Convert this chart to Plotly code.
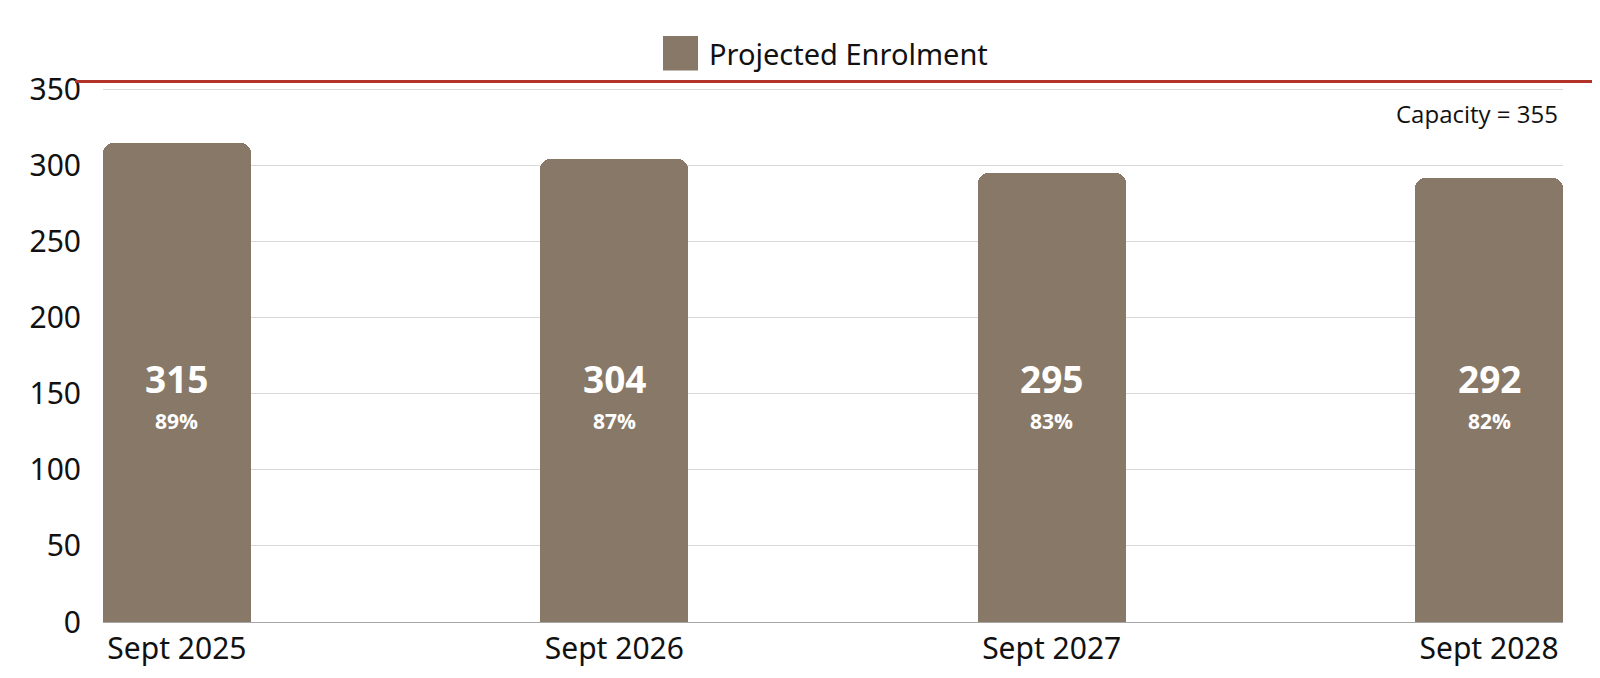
import plotly.graph_objects as go

categories = ["Sept 2025", "Sept 2026", "Sept 2027", "Sept 2028"]
enrolment = [315, 304, 295, 292]
pct_labels = ["89%", "87%", "83%", "82%"]
capacity = 355
series_name = "Projected Enrolment"
y_ticks = [0, 50, 100, 150, 200, 250, 300, 350]

BAR = "#887867"
RED = "#b3322a"
OFF = 8  # page body margin offset
W, H = 1600, 678
ML, MR, MT, MB = 103 - OFF, 37 + OFF, 74 - OFF, 56 + OFF
PW = W - ML - MR
PH = H - MT - MB

def px_x(p):
    return (p - OFF - ML) / PW

def px_y(p):
    return (H - MB - (p - OFF)) / PH

bw = 0.338
fig = go.Figure()
fig.add_trace(go.Bar(
    x=list(range(len(categories))), y=enrolment, name=series_name,
    marker=dict(color=BAR, cornerradius=10, line=dict(width=0)),
    width=bw, showlegend=False, hoverinfo="skip",
))

annotations = []
for i, (v, p) in enumerate(zip(enrolment, pct_labels)):
    annotations.append(dict(x=i, y=160, xref="x", yref="y", text="<b>%d</b>" % v,
                            showarrow=False, font=dict(family="Open Sans", size=37, color="white"),
                            xanchor="center", yanchor="middle"))
    annotations.append(dict(x=i, y=132, xref="x", yref="y", text="<b>%s</b>" % p,
                            showarrow=False, font=dict(family="Open Sans", size=21, color="white"),
                            xanchor="center", yanchor="middle"))

annotations.append(dict(x=px_x(1560), y=334, xref="paper", yref="y",
                        text="Capacity = %d" % capacity, showarrow=False,
                        font=dict(family="Open Sans", size=24, color="#111111"),
                        xanchor="right", yanchor="middle"))
annotations.append(dict(x=px_x(707), y=px_y(53), xref="paper", yref="paper",
                        text=series_name, showarrow=False,
                        font=dict(family="Noto Sans", size=29, color="#111111"),
                        xanchor="left", yanchor="middle"))

shapes = [
    dict(type="line", xref="paper", yref="y", x0=px_x(75), x1=px_x(1620),
         y0=capacity, y1=capacity, line=dict(color=RED, width=3), layer="above"),
    dict(type="rect", xref="paper", yref="paper", x0=px_x(663), x1=px_x(698),
         y0=px_y(70.5), y1=px_y(36), fillcolor=BAR, line=dict(width=0)),
]

fig.update_layout(
    width=W, height=H,
    margin=dict(l=ML, r=MR, t=MT, b=MB, pad=0),
    paper_bgcolor="white", plot_bgcolor="white",
    bargap=0,
    annotations=annotations, shapes=shapes,
    xaxis=dict(range=[-bw / 2, len(categories) - 1 + bw / 2],
               tickmode="array", tickvals=list(range(len(categories))), ticktext=categories,
               showgrid=False, zeroline=False, showline=True, linecolor="#a6a6a6", linewidth=1,
               ticks="", tickfont=dict(family="Noto Sans", size=30, color="#111111"),
               ticklabelstandoff=0),
    yaxis=dict(range=[0, 360], tickmode="array", tickvals=y_ticks,
               showgrid=True, gridcolor="#d9d9d9", gridwidth=1, zeroline=False,
               showline=False, ticks="",
               tickfont=dict(family="Noto Sans", size=30, color="#111111"),
               ticklabelstandoff=21),
    font=dict(family="Noto Sans"),
)

fig.write_html("out.html")
